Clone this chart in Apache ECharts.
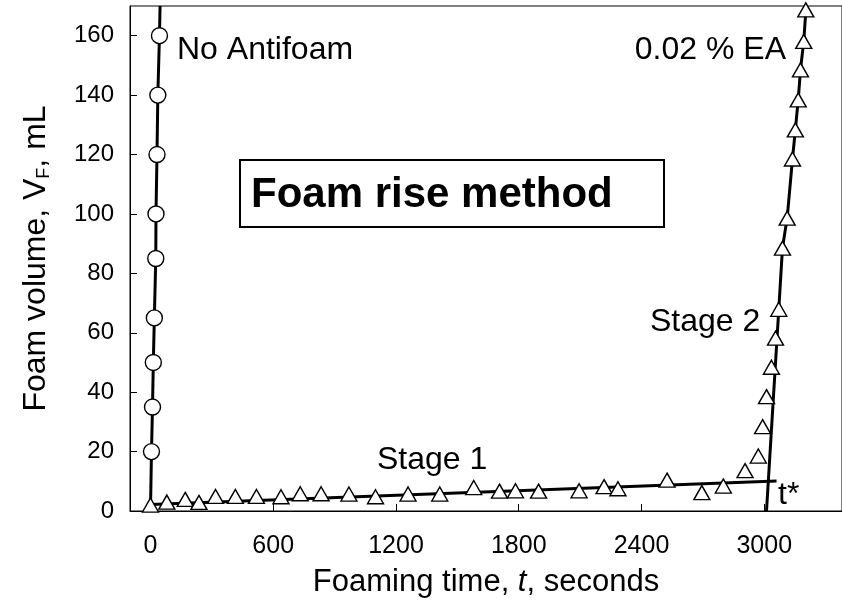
<!DOCTYPE html>
<html><head><meta charset="utf-8">
<script src="https://cdn.jsdelivr.net/npm/echarts@6/dist/echarts.min.js"></script>
<style>html,body{margin:0;padding:0;background:#fff}#c{width:842px;height:611px}</style>
</head><body><div id="c"></div>
<script>
// ---- data ----
var xTicks = [0, 600, 1200, 1800, 2400, 3000];
var yTicks = [0, 20, 40, 60, 80, 100, 120, 140, 160];
// No antifoam (circles): [time s, volume mL]
var noAntifoam = [[5,20],[10,35],[14,50],[19,65],[26,85],[27,100],[32,120],[36,140],[44,160]];
var noAntifoamLine = [[0,0],[5,20],[10,35],[14,50],[19,65],[26,85],[27,100],[32,120],[36,140],[44,160],[47,170]];
// 0.02 % EA (triangles)
var eaTimes  = [0,80,170,237,318,415,518,638,732,834,970,1100,1259,1414,1580,1706,1784,1897,2095,2217,2285,2525,2695,2800,2906,2971,2992,3011,3035,3055,3071,3089,3112,3138,3152,3166,3177,3193,3203];
var eaVolume = [2,3,3.9,2.9,4.9,4.9,4.9,4.8,5.8,5.8,5.7,4.8,5.7,5.7,7.9,6.7,6.8,6.7,6.8,8.2,7.5,10.4,6.2,8.4,13.6,18.5,28.4,38.5,48.4,58.2,67.9,88.5,98.6,118.5,128.3,138.4,148.5,158.1,168.7];
// fitted lines
var stage1Line = [[0,2.2],[3060,10.1]];
var stage2Line = [[3011,0],[3071,67.9],[3089,88.5],[3112,98.6],[3138,118.5],[3152,128.3],[3166,138.4],[3177,148.5],[3193,158.1],[3205,170]];

var eaData = eaTimes.map(function(t,i){return [t, eaVolume[i]];});
var FF = '"Liberation Sans", Arial, sans-serif';

var chart = echarts.init(document.getElementById('c'), null, {renderer:'canvas'});
chart.setOption({
  animation:false,
  backgroundColor:'#fff',
  grid:{left:130, right:-3, top:6, bottom:100, show:true, borderColor:'#000', borderWidth:1, backgroundColor:'transparent'},
  xAxis:{
    type:'value', min:-100, max:3380,
    axisLine:{show:true, onZero:false, lineStyle:{color:'#000', width:1}},
    axisTick:{show:true, inside:true, length:7, customValues:xTicks, lineStyle:{color:'#000'}},
    axisLabel:{customValues:xTicks, color:'#000', fontSize:25, fontFamily:FF, margin:23,
      formatter:function(v){return String(v);}},
    splitLine:{show:false},
    name:'Foaming time, {i|t}, seconds', nameLocation:'middle', nameGap:56,
    nameTextStyle:{color:'#000', fontSize:31, fontFamily:FF, rich:{i:{fontStyle:'italic', fontSize:31, fontFamily:FF, color:'#000'}}}
  },
  yAxis:{
    type:'value', min:0, max:170,
    axisLine:{show:true, onZero:false, lineStyle:{color:'#000', width:1}},
    axisTick:{show:true, inside:true, length:7, customValues:yTicks, lineStyle:{color:'#000'}},
    axisLabel:{customValues:yTicks, color:'#000', fontSize:24, fontFamily:FF, margin:16},
    splitLine:{show:false},
    name:'Foam volume, V{s|F}, mL', nameLocation:'middle', nameGap:77, nameRotate:90,
    nameTextStyle:{color:'#000', fontSize:32, fontFamily:FF, rich:{s:{fontSize:18, fontFamily:FF, color:'#000', verticalAlign:'bottom', padding:[16,0,0,0]}}}
  },
  series:[
    {type:'line', data:noAntifoamLine, symbol:'none', lineStyle:{color:'#000', width:3}, z:2},
    {type:'line', data:stage1Line, symbol:'none', lineStyle:{color:'#000', width:3}, z:2},
    {type:'line', data:stage2Line, symbol:'none', lineStyle:{color:'#000', width:3}, z:2},
    {type:'scatter', data:noAntifoam, symbol:'circle', symbolSize:16,
      itemStyle:{color:'#fff', opacity:1, borderColor:'#000', borderWidth:1.4}, z:3},
    {type:'scatter', data:eaData, symbol:'triangle', symbolSize:[16,14],
      itemStyle:{color:'#fff', opacity:1, borderColor:'#000', borderWidth:1.4}, z:3}
  ],
  graphic:[
    {type:'text', x:177, y:50, style:{text:'No Antifoam', fontSize:32, fontFamily:FF, fill:'#000', align:'left', verticalAlign:'middle'}},
    {type:'text', x:786, y:50, style:{text:'0.02 % EA', fontSize:32, fontFamily:FF, fill:'#000', align:'right', verticalAlign:'middle'}},
    {type:'text', x:650, y:322, style:{text:'Stage 2', fontSize:32, fontFamily:FF, fill:'#000', align:'left', verticalAlign:'middle'}},
    {type:'text', x:377, y:460, style:{text:'Stage 1', fontSize:32, fontFamily:FF, fill:'#000', align:'left', verticalAlign:'middle'}},
    {type:'text', x:778, y:495, style:{text:'t*', fontSize:32, fontFamily:FF, fill:'#000', align:'left', verticalAlign:'middle'}},
    {type:'rect', shape:{x:240, y:160, width:424, height:67}, style:{fill:'#fff', stroke:'#000', lineWidth:2}},
    {type:'text', x:251, y:195, style:{text:'Foam rise method', fontSize:42, fontWeight:'bold', fontFamily:FF, fill:'#000', align:'left', verticalAlign:'middle'}}
  ]
});
</script></body></html>
